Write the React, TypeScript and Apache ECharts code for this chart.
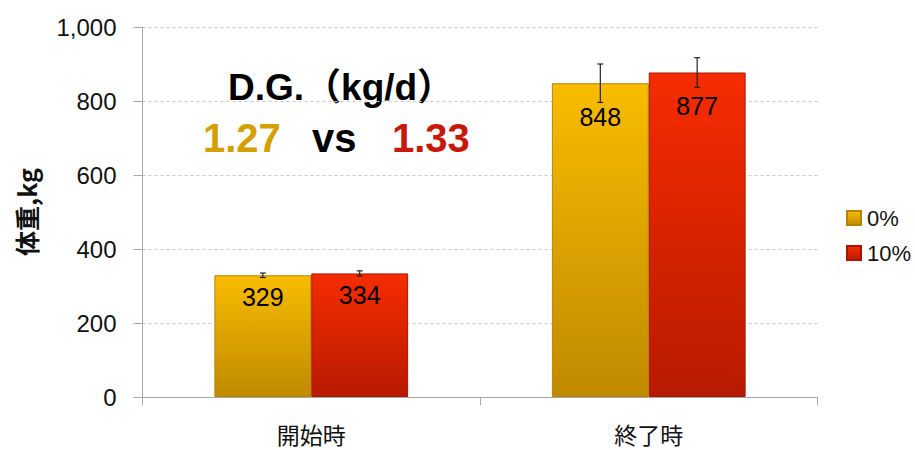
import React, { useEffect, useRef } from "react";
import * as echarts from "echarts";

const categories = ["開始時", "終了時"];
const seriesNames = ["0%", "10%"];
const values0 = [329, 848];
const values10 = [334, 877];
const errors0 = [6, 52];
const errors10 = [7, 40];
const yTicks = [0, 200, 400, 600, 800, 1000];
const dgTitle = "D.G.（kg/d）";
const dg0 = "1.27";
const dg10 = "1.33";

const FONT = '"Liberation Sans", Arial, "Noto Sans CJK JP", sans-serif';
const BAR_FRAC = 0.287;

const yellowGrad = new echarts.graphic.LinearGradient(0, 0, 0, 1, [
  { offset: 0, color: "#F8BC00" },
  { offset: 1, color: "#C08A00" },
]);
const redGrad = new echarts.graphic.LinearGradient(0, 0, 0, 1, [
  { offset: 0, color: "#F62C00" },
  { offset: 1, color: "#B81A00" },
]);

function errorSeries(name: string, vals: number[], errs: number[], side: number) {
  return {
    type: "custom",
    name: name + "-err",
    silent: true,
    z: 10,
    data: vals.map((v, i) => [i, v, errs[i]]),
    renderItem: (params: any, api: any) => {
      const idx = api.value(0);
      const v = api.value(1);
      const e = api.value(2);
      const band = api.size([1, 0])[0];
      const off = ((band * BAR_FRAC) / 2) * side;
      const top = api.coord([idx, v + e]);
      const bot = api.coord([idx, v - e]);
      const x = top[0] + off;
      const cap = 3;
      const style = { stroke: "#222", lineWidth: 1.2 };
      return {
        type: "group",
        children: [
          { type: "line", shape: { x1: x, y1: top[1], x2: x, y2: bot[1] }, style },
          { type: "line", shape: { x1: x - cap, y1: top[1], x2: x + cap, y2: top[1] }, style },
          { type: "line", shape: { x1: x - cap, y1: bot[1], x2: x + cap, y2: bot[1] }, style },
        ],
      };
    },
  };
}

function barData(vals: number[]) {
  return vals.map((v) => ({ value: v, label: { distance: v > 500 ? 21 : 9 } }));
}

export default function App() {
  const ref = useRef<HTMLDivElement>(null);
  useEffect(() => {
    if (!ref.current) return;
    const chart = echarts.init(ref.current, undefined, { renderer: "svg" });
    const labelStyle = {
      show: true,
      position: "insideTop",
      fontSize: 25,
      fontFamily: FONT,
      color: "#000",
    };
    const option: any = {
      animation: false,
      backgroundColor: "#fff",
      grid: { left: 142.5, right: 97.5, top: 27, bottom: 53, containLabel: false },
      legend: {
        orient: "vertical",
        left: 841,
        top: 202,
        icon: "rect",
        itemWidth: 14,
        itemHeight: 14,
        itemGap: 13,
        data: seriesNames,
        textStyle: { fontSize: 22, fontFamily: FONT, color: "#111", padding: [0, 0, 0, 1] },
      },
      xAxis: {
        type: "category",
        data: categories,
        axisLine: { lineStyle: { color: "#A6A6A6", width: 1 } },
        axisTick: { show: true, length: 8, lineStyle: { color: "#A6A6A6" } },
        axisLabel: {
          fontSize: 23,
          fontFamily: '"Noto Sans CJK JP", sans-serif',
          color: "#111",
          margin: 25,
          lineHeight: 24,
        },
      },
      yAxis: {
        type: "value",
        min: 0,
        max: 1000,
        interval: 200,
        name: "体重,kg",
        nameLocation: "middle",
        nameGap: 104,
        nameRotate: 90,
        nameTextStyle: {
          fontSize: 25,
          fontWeight: "bold",
          fontFamily: '"Noto Sans CJK JP", sans-serif',
          color: "#111",
        },
        axisLine: { show: true, lineStyle: { color: "#A6A6A6", width: 1 } },
        axisTick: { show: true, length: 9, lineStyle: { color: "#A6A6A6" } },
        axisLabel: {
          fontSize: 24,
          fontFamily: FONT,
          color: "#111",
          margin: 26,
          formatter: (v: number) => (yTicks.includes(v) ? v.toLocaleString("en-US") : ""),
        },
        splitLine: { show: true, lineStyle: { color: "#C8C8C8", type: [3, 3], width: 1 } },
      },
      series: [
        {
          type: "bar",
          name: seriesNames[0],
          data: barData(values0),
          barWidth: BAR_FRAC * 100 + "%",
          barGap: "0%",
          itemStyle: { color: yellowGrad, borderColor: "#B88400", borderWidth: 1 },
          label: labelStyle,
        },
        {
          type: "bar",
          name: seriesNames[1],
          data: barData(values10),
          barWidth: BAR_FRAC * 100 + "%",
          barGap: "0%",
          itemStyle: { color: redGrad, borderColor: "#A81600", borderWidth: 1 },
          label: labelStyle,
        },
        errorSeries(seriesNames[0], values0, errors0, -1),
        errorSeries(seriesNames[1], values10, errors10, 1),
      ],
      graphic: [
        {
          type: "text",
          left: 228,
          top: 69,
          style: { text: dgTitle, font: 'bold 37px "Liberation Sans", Arial, "Noto Sans CJK JP"', fill: "#000" },
        },
        {
          type: "text",
          left: 203,
          top: 118,
          style: { text: dg0, font: 'bold 40px "Liberation Sans", Arial', fill: "#D4A000" },
        },
        {
          type: "text",
          left: 312,
          top: 118,
          style: { text: "vs", font: 'bold 40px "Liberation Sans", Arial', fill: "#000" },
        },
        {
          type: "text",
          left: 392,
          top: 118,
          style: { text: dg10, font: 'bold 40px "Liberation Sans", Arial', fill: "#C8180C" },
        },
      ],
    };
    chart.setOption(option);
    return () => chart.dispose();
  }, []);
  return <div ref={ref} style={{ width: 915, height: 450, position: "absolute", left: 0, top: 0 }} />;
}
